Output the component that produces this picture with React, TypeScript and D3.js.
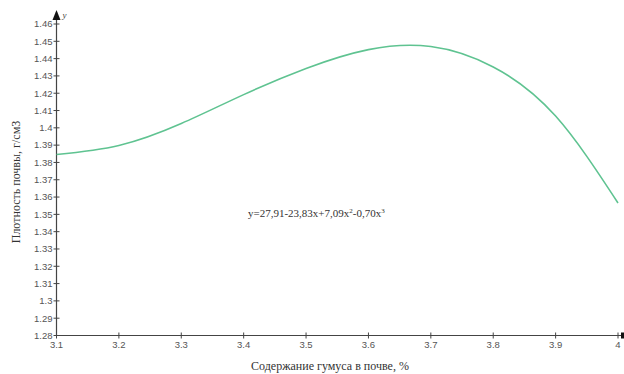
import React from "react";
import * as d3 from "d3";

const humus = [3.1, 3.2, 3.3, 3.4, 3.5, 3.6, 3.7, 3.8, 3.9, 4.0];
const density = [1.3846, 1.3898, 1.4025, 1.4192, 1.4343, 1.4452, 1.447, 1.4352, 1.4068, 1.3566];
const xTicks = [3.1, 3.2, 3.3, 3.4, 3.5, 3.6, 3.7, 3.8, 3.9, 4.0];
const yTicks = [1.28, 1.29, 1.3, 1.31, 1.32, 1.33, 1.34, 1.35, 1.36, 1.37, 1.38, 1.39, 1.4, 1.41, 1.42, 1.43, 1.44, 1.45, 1.46];
const xTitle = "Содержание гумуса в почве, %";
const yTitle = "Плотность почвы, г/см3";

export default function App() {
  const W = 624, H = 374;
  const x = d3.scaleLinear().domain([3.1, 4.0]).range([56.5, 618]);
  const y = d3.scaleLinear().domain([1.28, 1.46]).range([335.5, 24]);
  const line = d3
    .line<number>()
    .x((_, i) => x(humus[i]))
    .y((d) => y(d))
    .curve(d3.curveNatural);
  const axisColor = "#444";
  const tickFont = { fontFamily: "Arial, 'Liberation Sans', sans-serif", fontSize: 9.5, fill: "#555" };
  const fmt = (v: number) => String(+v.toFixed(2));
  return (
    <svg
      width={W}
      height={H}
      style={{ position: "absolute", left: 0, top: 0, background: "#fff" }}
    >
      {/* y axis */}
      <line x1={x(3.1)} y1={y(1.28)} x2={x(3.1)} y2={12} stroke={axisColor} strokeWidth={1.2} />
      <path d={`M${x(3.1) - 4},${20} L${x(3.1)},${10} L${x(3.1) + 4},${20} Z`} fill="#111" />
      <text x={x(3.1) + 6} y={18} fontFamily="Times New Roman, 'Liberation Serif', serif" fontStyle="italic" fontSize={9} fill="#444">y</text>
      {/* x axis */}
      <line x1={x(3.1)} y1={y(1.28)} x2={622} y2={y(1.28)} stroke={axisColor} strokeWidth={1.2} />
      <rect x={621} y={y(1.28) - 3} width={3} height={6} fill="#111" />
      {yTicks.map((t) => (
        <g key={"y" + t}>
          <line x1={x(3.1) - 3} x2={x(3.1) + 3} y1={y(t)} y2={y(t)} stroke={axisColor} strokeWidth={1} />
          <text x={x(3.1) - 4} y={y(t)} dy="0.35em" textAnchor="end" {...tickFont}>
            {fmt(t)}
          </text>
        </g>
      ))}
      {xTicks.map((t) => (
        <g key={"x" + t}>
          <line x1={x(t)} x2={x(t)} y1={y(1.28) - 3} y2={y(1.28) + 3} stroke={axisColor} strokeWidth={1} />
          <text x={x(t)} y={y(1.28) + 12} textAnchor="middle" {...tickFont}>
            {fmt(t)}
          </text>
        </g>
      ))}
      <path d={line(density) || ""} fill="none" stroke="#5fc391" strokeWidth={1.6} />
      <text
        x={248}
        y={217}
        fontFamily="Times New Roman, 'Liberation Serif', serif"
        fontSize={11}
        fill="#333"
      >
        y=27,91-23,83x+7,09x<tspan dy={-4} fontSize={7}>2</tspan>
        <tspan dy={4}>-0,70x</tspan>
        <tspan dy={-4} fontSize={7}>3</tspan>
      </text>
      <text
        x={330}
        y={370}
        textAnchor="middle"
        fontFamily="Times New Roman, 'Liberation Serif', serif"
        fontSize={12}
        fill="#333"
      >
        {xTitle}
      </text>
      <text
        transform={`translate(20,182) rotate(-90)`}
        textAnchor="middle"
        fontFamily="Times New Roman, 'Liberation Serif', serif"
        fontSize={12}
        fill="#333"
      >
        {yTitle}
      </text>
    </svg>
  );
}
